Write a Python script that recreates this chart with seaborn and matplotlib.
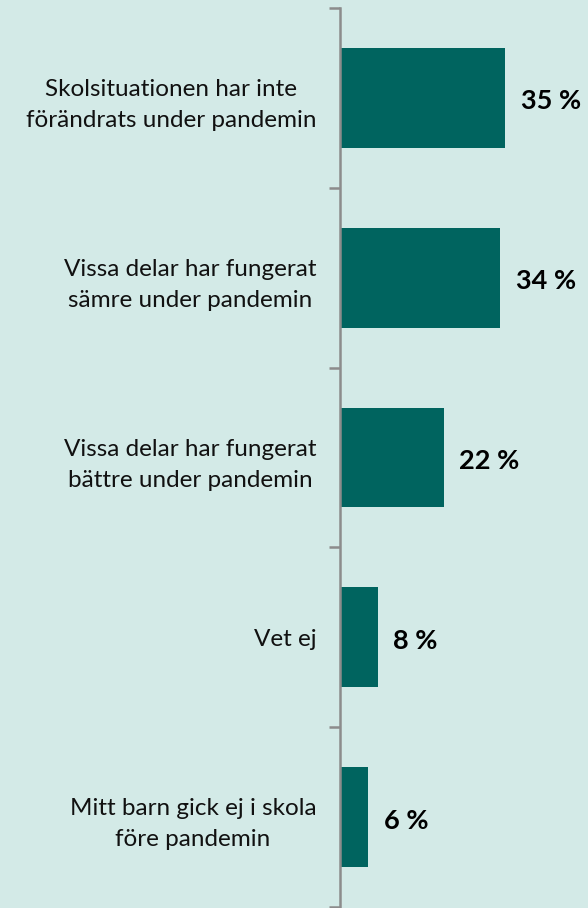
import matplotlib
matplotlib.use("Agg")
import matplotlib.pyplot as plt
import seaborn as sns
import pandas as pd
import numpy as np

categories = [
    "Skolsituationen har inte\nförändrats under pandemin",
    "Vissa delar har fungerat\nsämre under pandemin",
    "Vissa delar har fungerat\nbättre under pandemin",
    "Vet ej",
    "Mitt barn gick ej i skola\nföre pandemin",
]
values = [35, 34, 22, 8, 6]
value_labels = ["35 %", "34 %", "22 %", "8 %", "6 %"]

bg = "#d3eae7"
bar_color = "#00645f"

sns.set_theme(style="white")
plt.rcParams["font.family"] = ["Lato", "DejaVu Sans"]

df = pd.DataFrame({"cat": categories, "val": values})

fig = plt.figure(figsize=(5.88, 9.08), dpi=100, facecolor=bg)
ax = fig.add_axes([340 / 588, 1 / 908, 1 - 340 / 588, 899 / 908])
ax.set_facecolor(bg)

sns.barplot(data=df, x="val", y="cat", color=bar_color, width=0.555,
            saturation=1, ax=ax, orient="h", linewidth=0)

ax.set_xlim(0, 52.6)
ax.set_ylim(len(categories) - 0.5, -0.5)
ax.set_xlabel("")
ax.set_ylabel("")
ax.set_xticks([])

for s in ["top", "right", "bottom"]:
    ax.spines[s].set_visible(False)
ax.spines["left"].set_color("#8c8c8c")
ax.spines["left"].set_linewidth(1.8)

ax.set_yticks(range(len(categories)))
ax.set_yticklabels(categories, fontsize=17.5, color="#111111")
for lab in ax.get_yticklabels():
    lab.set_multialignment("center")
    lab.set_linespacing(1.6)
ax.tick_params(axis="y", which="major", length=0, pad=17)
ax.set_yticks(np.arange(-0.5, len(categories), 1.0), minor=True)
ax.tick_params(axis="y", which="minor", length=8, width=1.8, color="#8c8c8c", left=True)

for i, (v, t) in enumerate(zip(values, value_labels)):
    ax.text(v + 3.3, i + 0.02, t, ha="left", va="center", fontsize=19.5,
            fontweight="bold", color="#000000")

fig.savefig("out.png", dpi=100, facecolor=bg)
